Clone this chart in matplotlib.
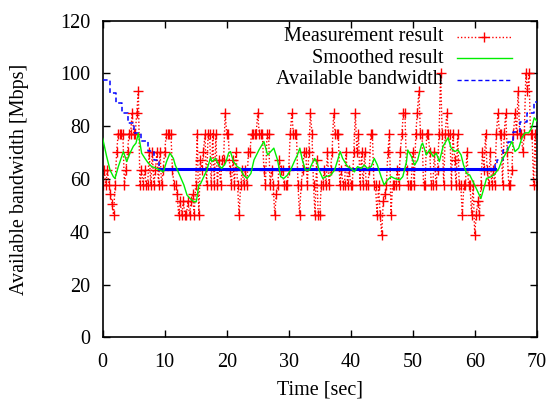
import numpy as np
import matplotlib
matplotlib.use("Agg")
import matplotlib.pyplot as plt
from matplotlib.lines import Line2D

plt.rcParams['font.family'] = ['Liberation Serif', 'DejaVu Serif']

# Measurement result (every 0.25 s)
meas_v = [
    57.7, 63.6, 57.7, 63.6,
    57.7, 54.4, 50.5, 46.4,
    57.7, 70.3, 77.2, 77.2,
    77.2, 77.2, 57.7, 63.6,
    70.3, 77.2, 77.2, 85.0,
    77.2, 77.2, 85.0, 93.3,
    57.7, 63.6, 57.7, 63.6,
    57.7, 57.7, 70.3, 57.7,
    70.3, 57.7, 63.6, 70.3,
    57.7, 70.3, 57.7, 63.6,
    70.3, 77.2, 77.2, 77.2,
    77.2, 63.6, 57.7, 57.7,
    54.4, 46.4, 51.5, 46.4,
    51.5, 46.4, 46.4, 51.5,
    46.4, 51.5, 54.4, 46.4,
    57.7, 77.2, 46.4, 67.2,
    63.6, 70.3, 77.2, 57.7,
    77.2, 77.2, 57.7, 77.2,
    57.7, 77.2, 57.7, 67.2,
    57.7, 67.2, 67.2, 85.0,
    77.2, 77.2, 63.6, 57.7,
    67.2, 57.7, 70.3, 57.7,
    46.4, 57.7, 63.6, 57.7,
    63.6, 57.7, 70.3, 70.3,
    77.2, 77.2, 77.2, 77.2,
    85.0, 77.2, 77.2, 77.2,
    63.6, 57.7, 77.2, 77.2,
    57.7, 63.6, 57.7, 46.4,
    54.4, 57.7, 67.2, 63.6,
    63.6, 57.7, 57.7, 57.7,
    63.6, 77.2, 85.0, 77.2,
    77.2, 77.2, 57.7, 46.4,
    57.7, 63.6, 70.3, 70.3,
    57.7, 70.3, 85.0, 77.2,
    57.7, 46.4, 67.2, 46.4,
    46.4, 57.7, 57.7, 63.6,
    57.7, 70.3, 57.7, 63.6,
    70.3, 85.0, 77.2, 77.2,
    77.2, 57.7, 63.6, 57.7,
    57.7, 70.3, 57.7, 63.6,
    57.7, 57.7, 70.3, 85.0,
    70.3, 77.2, 57.7, 70.3,
    57.7, 70.3, 57.7, 57.7,
    63.6, 77.2, 77.2, 57.7,
    57.7, 46.4, 57.7, 46.4,
    38.9, 51.5, 54.4, 57.7,
    70.3, 77.2, 46.4, 57.7,
    57.7, 57.7, 63.6, 57.7,
    70.3, 77.2, 85.0, 85.0,
    63.6, 57.7, 57.7, 57.7,
    70.3, 57.7, 77.2, 85.0,
    93.3, 77.2, 77.2, 57.7,
    57.7, 77.2, 77.2, 70.3,
    57.7, 57.7, 70.3, 57.7,
    63.6, 77.2, 100.0, 77.2,
    57.7, 77.2, 85.0, 77.2,
    77.2, 57.7, 77.2, 67.2,
    57.7, 77.2, 57.7, 57.7,
    46.4, 57.7, 57.7, 70.3,
    57.7, 57.7, 46.4, 57.7,
    38.9, 46.4, 51.5, 46.4,
    57.7, 70.3, 63.6, 77.2,
    63.6, 57.7, 70.3, 57.7,
    63.6, 57.7, 77.2, 85.0,
    77.2, 77.2, 57.7, 77.2,
    85.0, 70.3, 57.7, 57.7,
    63.6, 77.2, 85.0, 77.2,
    93.3, 77.2, 77.2, 70.3,
    77.2, 100.0, 93.3, 100.0,
    77.2, 77.2, 57.7, 77.2,
    57.7,
]
meas_t = np.arange(len(meas_v)) * 0.25

# Smoothed result
smooth_t = [0.0, 0.64, 1.18, 1.71, 1.98, 2.52, 3.33, 3.87, 4.4, 4.94, 5.37, 5.75,
            6.28, 6.82, 7.36, 7.9, 8.4, 9.24, 9.78, 10.3, 10.85, 11.4,
            11.7, 12.5, 13.1, 13.6, 14.1, 14.7, 15.1, 15.5, 15.8, 16.3, 16.8,
            17.4, 17.6, 18.2, 18.7, 19.2, 19.8, 20.3, 20.6, 21.1, 21.7, 22.2,
            22.7, 23.3, 23.9, 24.4, 25.2, 26.0, 26.6, 27.1, 27.6, 28.2, 28.7,
            29.2, 29.8, 30.3, 30.9, 31.4, 31.8, 32.2, 32.7, 33.3, 33.8, 34.2,
            34.6, 34.9, 35.5, 36.0, 36.8, 37.4, 37.9, 38.3, 38.7, 39.5, 40.1,
            40.6, 41.1, 41.7, 42.2, 42.7, 43.3, 43.8, 44.3, 44.9, 45.4, 45.9,
            46.5, 47.1, 47.9, 48.4, 49.0, 49.2, 49.8, 50.3, 50.8, 51.4, 51.6,
            52.2, 52.7, 53.3, 53.8, 54.3, 54.9, 55.7, 56.2, 56.8, 57.3, 57.8,
            58.2, 58.7, 59.2, 60.0, 60.6, 61.0, 61.4, 61.9, 62.7, 63.3, 63.9,
            64.4, 65.2, 66.0, 66.5, 67.1, 67.6, 68.1, 68.7, 69.2, 69.6, 70.0]
smooth_v = [75.4, 68.5, 63.4, 60.9, 60.2, 64.7, 70.4, 66.6, 69.8, 72.4, 73.6, 77.3,
            69.8, 67.8, 66.0, 64.7, 64.3, 63.4, 62.7, 66.6, 69.8, 67.8,
            65.3, 60.9, 57.7, 53.9, 52.6, 51.4, 51.4, 57.7, 58.3, 60.9, 63.4,
            68.2, 66.6, 67.8, 65.3, 64.0, 66.0, 69.8, 70.4, 66.6, 64.7, 64.0,
            61.5, 60.2, 62.1, 67.2, 71.0, 74.2, 69.1, 70.4, 71.7, 67.2, 60.9,
            60.2, 61.5, 63.4, 66.6, 69.1, 71.7, 67.2, 63.4, 63.4, 66.0, 67.8,
            66.0, 63.4, 60.2, 60.9, 61.5, 63.4, 67.2, 70.4, 67.8, 64.7, 64.0,
            62.7, 64.7, 64.0, 65.3, 64.0, 64.7, 67.8, 65.3, 60.9, 57.7, 59.5,
            60.9, 60.2, 59.6, 60.9, 66.6, 71.0, 68.5, 65.3, 67.2, 72.9, 73.6,
            69.1, 71.0, 68.5, 69.8, 66.6, 72.4, 75.6, 71.7, 70.4, 71.0, 69.1,
            65.3, 62.1, 61.5, 57.7, 54.6, 52.6, 55.8, 60.2, 60.9, 62.1, 64.0,
            67.2, 70.4, 74.2, 70.4, 71.7, 75.6, 77.5, 77.5, 79.4, 83.2, 82.0]

# Available bandwidth (step changes)
avail_t = [0.0, 1.2, 2.1, 3.1, 4.1, 5.1, 6.1, 7.3, 8.3, 9.1, 63.3, 63.6, 64.5,
           65.4, 66.2, 67.3, 68.4, 69.5, 70.0]
avail_v = [97.5, 92.5, 88.8, 85.2, 81.4, 77.6, 74.5, 70.7, 67.3, 63.8, 65.6, 67.2,
           71.0, 74.2, 78.0, 81.7, 85.2, 89.0, 89.0]

labels = ["Measurement result", "Smoothed result", "Available bandwidth"]
x_ticks = [0, 10, 20, 30, 40, 50, 60, 70]
y_ticks = [0, 20, 40, 60, 80, 100, 120]

W, H = 552, 399
fig = plt.figure(figsize=(W / 100, H / 100), dpi=100)
L, R, T, B = 102.7, 536.7, 20.7, 337.3
ax = fig.add_axes([L / W, 1 - B / H, (R - L) / W, (B - T) / H])

red = '#ff0000'
green = '#00ee00'
blue = '#0000ff'
FS = 14.5

ax.plot(meas_t, meas_v, color=red, lw=1.0, linestyle=(0, (1, 1.5)),
        marker='+', ms=7, mew=1.0, zorder=2)
ax.plot(avail_t, avail_v, drawstyle='steps-post', color=blue, lw=1.1,
        dashes=(3, 2), zorder=3)
ax.plot([avail_t[9], avail_t[10]], [avail_v[9], avail_v[9]], color=blue, lw=2.2,
        zorder=3)
ax.plot(smooth_t, smooth_v, color=green, lw=1.0, zorder=4)

ax.set_xlim(0, 70)
ax.set_ylim(0, 120)
ax.set_xticks(x_ticks)
ax.set_yticks(y_ticks)
ax.tick_params(direction='in', length=5, width=1, top=True, right=True,
               labelsize=FS, colors='black')
ax.tick_params(axis='x', pad=11)
ax.tick_params(axis='y', pad=9)
for s in ax.spines.values():
    s.set_linewidth(1.2)
ax.set_xlabel("Time [sec]", fontsize=FS)
ax.set_ylabel("Available bandwidth [Mbps]", fontsize=FS)
ax.xaxis.set_label_coords(0.5, (B - 380.5) / (B - T))
ax.yaxis.set_label_coords((29 - L) / (R - L), 0.5)

# legend (gnuplot style: right-aligned text, sample to the right)
leg_y = [36.7, 58.3, 80.0]
styles = [dict(color=red, lw=1.0, linestyle=(0, (1, 1.5))),
          dict(color=green, lw=1.0),
          dict(color=blue, lw=1.0, dashes=(3, 2))]
for lab, yy, st in zip(labels, leg_y, styles):
    fig.text(443.3 / W, 1 - yy / H, lab, ha='right', va='center', fontsize=FS)
    fig.add_artist(Line2D([456.7 / W, 511.7 / W], [1 - yy / H, 1 - yy / H],
                          transform=fig.transFigure, **st))
fig.add_artist(Line2D([484 / W], [1 - leg_y[0] / H], transform=fig.transFigure,
                      marker='+', color=red, ms=7, mew=1.0, lw=0))

fig.savefig("out.png", dpi=100)
